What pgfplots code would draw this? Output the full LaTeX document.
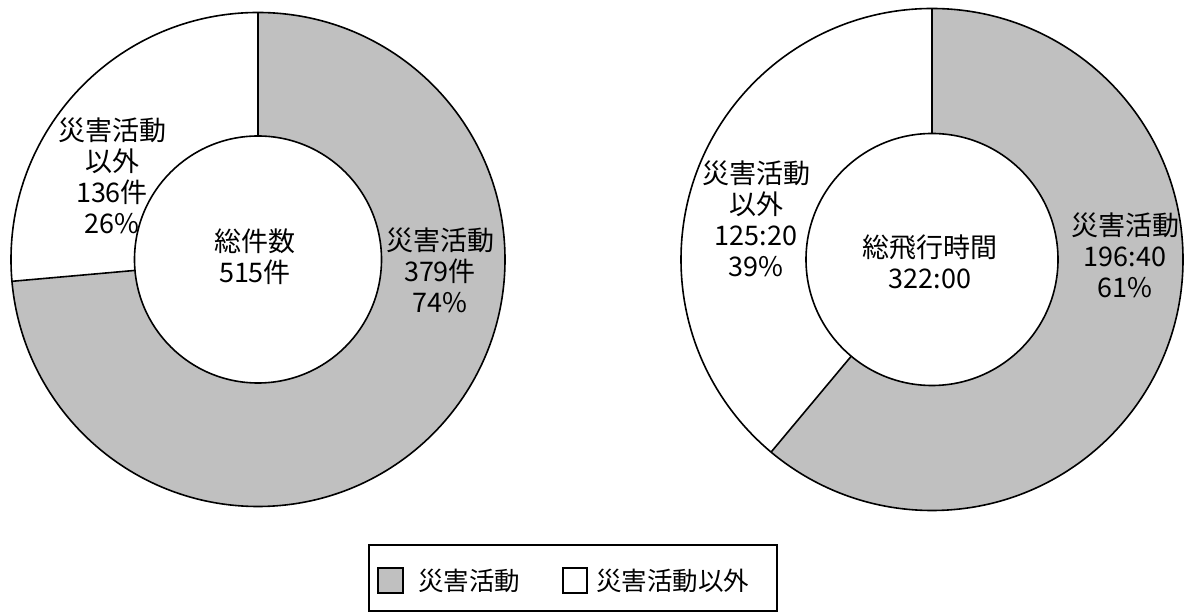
\documentclass[border=0pt]{standalone}
\usepackage{pgfplots}
\pgfplotsset{compat=1.18}
\usepackage{fontspec}
\setmainfont{Noto Sans CJK JP}
\definecolor{sgray}{HTML}{C0C0C0}
\newcommand\lab{\fontsize{27}{31}\selectfont}
\newcommand\leg{\fontsize{25.5}{30}\selectfont}
\begin{document}
\begin{tikzpicture}
% data: left = counts, right = flight hours (196:40, 125:20)
\pgfmathsetmacro{\La}{379}\pgfmathsetmacro{\Lb}{136}
\pgfmathsetmacro{\Ra}{196.6667}\pgfmathsetmacro{\Rb}{125.3333}
\pgfmathsetmacro{\LA}{90-360*(\La/(\La+\Lb))}
\pgfmathsetmacro{\RA}{90-360*(\Ra/(\Ra+\Rb))}
% geometry
\def\Lcx{258}\def\Lcy{352.5}\def\LR{247}\def\Lr{123.5}
\def\Rcx{932}\def\Rcy{352.5}\def\RR{251}\def\Rr{126}
\pgfmathsetmacro{\Lxo}{\Lcx+\LR*cos(\LA)}\pgfmathsetmacro{\Lyo}{\Lcy+\LR*sin(\LA)}
\pgfmathsetmacro{\Lxi}{\Lcx+\Lr*cos(\LA)}\pgfmathsetmacro{\Lyi}{\Lcy+\Lr*sin(\LA)}
\pgfmathsetmacro{\Rxo}{\Rcx+\RR*cos(\RA)}\pgfmathsetmacro{\Ryo}{\Rcy+\RR*sin(\RA)}
\pgfmathsetmacro{\Rxi}{\Rcx+\Rr*cos(\RA)}\pgfmathsetmacro{\Ryi}{\Rcy+\Rr*sin(\RA)}
\pgfmathsetmacro{\Ltop}{\Lcy+\LR}\pgfmathsetmacro{\Ltopi}{\Lcy+\Lr}
\pgfmathsetmacro{\Rtop}{\Rcy+\RR}\pgfmathsetmacro{\Rtopi}{\Rcy+\Rr}
\useasboundingbox (0,0) rectangle (1190pt,612pt);
\begin{axis}[at={(0,0)}, anchor=south west, x=1pt, y=1pt,
  xmin=0, xmax=1190, ymin=0, ymax=612, hide axis, clip=false]
% left donut
\fill[white] (axis cs:\Lcx,\Lcy) circle[radius=\LR pt];
\fill[sgray] (axis cs:\Lcx,\Lcy) -- (axis cs:\Lcx,\Ltop) arc[start angle=90, end angle=\LA, radius=\LR pt] -- cycle;
\draw[line width=1.6pt] (axis cs:\Lcx,\Lcy) circle[radius=\LR pt];
\filldraw[fill=white, line width=1.6pt] (axis cs:\Lcx,\Lcy) circle[radius=\Lr pt];
\draw[line width=1.6pt] (axis cs:\Lcx,\Ltopi) -- (axis cs:\Lcx,\Ltop);
\draw[line width=1.6pt] (axis cs:\Lxi,\Lyi) -- (axis cs:\Lxo,\Lyo);
% right donut
\fill[white] (axis cs:\Rcx,\Rcy) circle[radius=\RR pt];
\fill[sgray] (axis cs:\Rcx,\Rcy) -- (axis cs:\Rcx,\Rtop) arc[start angle=90, end angle=\RA, radius=\RR pt] -- cycle;
\draw[line width=1.6pt] (axis cs:\Rcx,\Rcy) circle[radius=\RR pt];
\filldraw[fill=white, line width=1.6pt] (axis cs:\Rcx,\Rcy) circle[radius=\Rr pt];
\draw[line width=1.6pt] (axis cs:\Rcx,\Rtopi) -- (axis cs:\Rcx,\Rtop);
\draw[line width=1.6pt] (axis cs:\Rxi,\Ryi) -- (axis cs:\Rxo,\Ryo);
% labels left
\node[align=center, font=\lab] at (axis cs:112,436) {災害活動\\以外\\136件\\26\%};
\node[align=center, font=\lab] at (axis cs:440,342) {災害活動\\379件\\74\%};
\node[align=center, font=\lab] at (axis cs:255,355) {総件数\\515件};
% labels right
\node[align=center, font=\lab] at (axis cs:756,393) {災害活動\\以外\\125:20\\39\%};
\node[align=center, font=\lab] at (axis cs:1125,357) {災害活動\\196:40\\61\%};
\node[align=center, font=\lab] at (axis cs:930,350) {総飛行時間\\322:00};
% legend
\draw[line width=1.3pt] (axis cs:369,1) rectangle (axis cs:777,67);
\filldraw[fill=sgray, line width=1.3pt] (axis cs:378,19) rectangle (axis cs:403,44);
\node[anchor=west, font=\leg, inner sep=0pt] at (axis cs:418,31) {災害活動};
\filldraw[fill=white, line width=1.3pt] (axis cs:563,19) rectangle (axis cs:587,44);
\node[anchor=west, font=\leg, inner sep=0pt] at (axis cs:596,31) {災害活動以外};
\end{axis}
\end{tikzpicture}
\end{document}
